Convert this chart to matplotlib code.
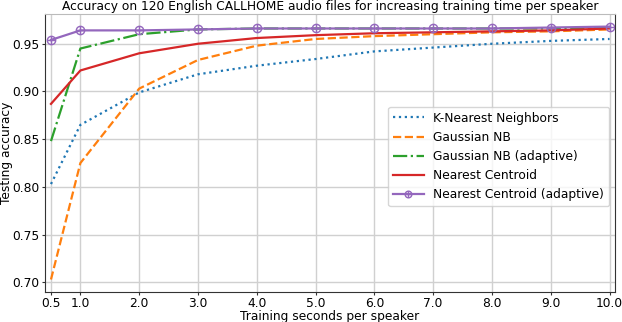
import matplotlib
matplotlib.use("Agg")
import matplotlib.pyplot as plt
from matplotlib.path import Path

# training seconds per speaker
seconds = [0.5, 1.0, 2.0, 3.0, 4.0, 5.0, 6.0, 7.0, 8.0, 9.0, 10.0]

knn = [0.803, 0.865, 0.899, 0.918, 0.927, 0.934, 0.942, 0.946, 0.950, 0.953, 0.955]
gnb = [0.703, 0.825, 0.903, 0.933, 0.948, 0.955, 0.958, 0.960, 0.962, 0.963, 0.965]
gnb_adaptive = [0.848, 0.945, 0.960, 0.965, 0.966, 0.966, 0.966, 0.966, 0.966, 0.966, 0.967]
nc = [0.887, 0.922, 0.940, 0.950, 0.956, 0.959, 0.961, 0.962, 0.963, 0.964, 0.966]
nc_adaptive = [0.954, 0.964, 0.964, 0.965, 0.966, 0.966, 0.966, 0.966, 0.966, 0.967, 0.968]

xticks = [0.5, 1.0, 2.0, 3.0, 4.0, 5.0, 6.0, 7.0, 8.0, 9.0, 10.0]
yticks = [0.70, 0.75, 0.80, 0.85, 0.90, 0.95]

fs = 8.8

# circle with a plus inside
oplus = Path.make_compound_path(Path.unit_circle(),
                                Path([[-1, 0], [1, 0]]),
                                Path([[0, -1], [0, 1]]))

fig = plt.figure(figsize=(6.22, 3.22), dpi=100)
ax = fig.add_axes([0.0725, 0.092, 0.916, 0.864])

ax.plot(seconds, knn, ":", color="#1f77b4", lw=1.6, label="K-Nearest Neighbors")
ax.plot(seconds, gnb, "--", color="#ff7f0e", lw=1.6, label="Gaussian NB")
ax.plot(seconds, gnb_adaptive, "-.", color="#2ca02c", lw=1.6, label="Gaussian NB (adaptive)")
ax.plot(seconds, nc, "-", color="#d62728", lw=1.6, label="Nearest Centroid")
ax.plot(seconds, nc_adaptive, "-", color="#9467bd", lw=1.6, marker=oplus,
        markersize=6, markerfacecolor="none", markeredgewidth=1,
        label="Nearest Centroid (adaptive)")

ax.set_xlim(0.4, 10.09)
ax.set_ylim(0.6895, 0.981)
ax.set_xticks(xticks)
ax.set_xticklabels([f"{t:.1f}" for t in xticks])
ax.set_yticks(yticks)
ax.set_yticklabels([f"{t:.2f}" for t in yticks])
ax.tick_params(length=2.5, width=0.8, color="#333333", labelsize=fs, pad=1.5)
ax.tick_params(axis="x", pad=1)

ax.grid(True, color="#d0d0d0", lw=1)
ax.set_axisbelow(True)
for side in ["left", "bottom", "right"]:
    ax.spines[side].set_color("#333333")
ax.spines["top"].set_color("#bbbbbb")

ax.set_title("Accuracy on 120 English CALLHOME audio files for increasing training time per speaker",
             fontsize=fs, pad=3)
ax.set_xlabel("Training seconds per speaker", fontsize=fs)
ax.xaxis.set_label_coords(0.5, -0.063)
ax.set_ylabel("Testing accuracy", fontsize=fs)
ax.yaxis.set_label_coords(-0.056, 0.5)

ax.legend(loc="upper right", bbox_to_anchor=(0.99, 0.667), borderaxespad=0,
          fontsize=fs, handlelength=2.5, frameon=True, markerscale=0.8)

fig.savefig("out.png", dpi=100)
